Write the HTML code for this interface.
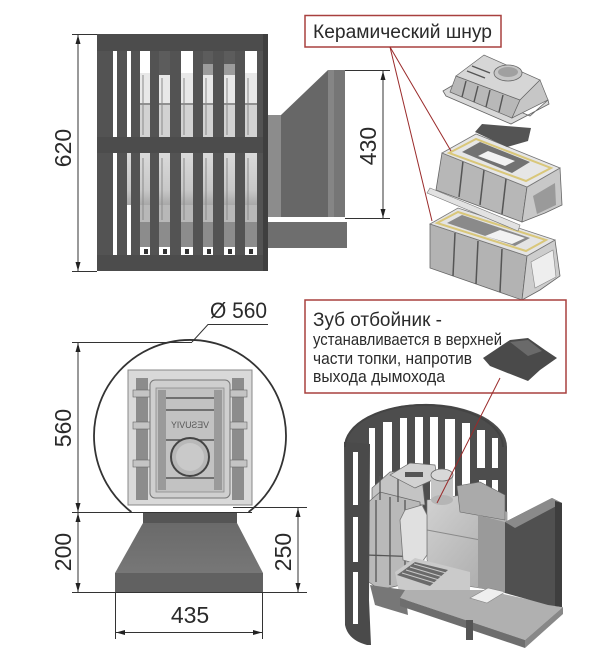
<!DOCTYPE html>
<html><head><meta charset="utf-8"><style>
html,body{margin:0;padding:0;background:#fff;}
svg{display:block;}
text{font-family:"Liberation Sans",sans-serif;fill:#2a2a2a;}
</style></head><body>
<svg width="600" height="666" viewBox="0 0 600 666" xmlns="http://www.w3.org/2000/svg">
<defs>
<marker id="ar" markerWidth="9" markerHeight="5" refX="9" refY="2.5" orient="auto-start-reverse" markerUnits="userSpaceOnUse"><path d="M0,0 L9,2.5 L0,5 z" fill="#222"/></marker>
<linearGradient id="gTrap" x1="0" y1="0" x2="0" y2="1"><stop offset="0" stop-color="#6a6a6a"/><stop offset="1" stop-color="#777"/></linearGradient>
<linearGradient id="gInt" x1="0" y1="0" x2="1" y2="1"><stop offset="0" stop-color="#d2d2d2"/><stop offset="1" stop-color="#a6a6a6"/></linearGradient>
<linearGradient id="gLow" x1="0" y1="0" x2="0" y2="1"><stop offset="0" stop-color="#dadada"/><stop offset="0.7" stop-color="#c8c8c8"/><stop offset="1" stop-color="#a8a8a8"/></linearGradient>
</defs>

<!-- ============ TOP-LEFT SIDE VIEW ============ -->
<rect x="140" y="73" width="122" height="30" fill="#e8e8e8"/>
<rect x="140" y="103" width="122" height="34" fill="#d2d2d2"/>
<line x1="140" y1="104" x2="262" y2="104" stroke="#7a7a7a" stroke-width="1.5"/>
<rect x="159" y="51" width="11" height="24" fill="#5c5c5c"/>
<rect x="203" y="51" width="32" height="13" fill="#5c5c5c"/>
<rect x="203" y="64" width="32" height="11" fill="#9c9c9c"/>
<rect x="127" y="153" width="135" height="52" fill="url(#gLow)"/>
<rect x="140" y="205" width="122" height="17" fill="#b8b8b8"/>
<rect x="140" y="222" width="122" height="25" fill="#8c8c8c"/>
<g fill="#333">
<rect x="144" y="249" width="4" height="5"/><rect x="163" y="249" width="4" height="5"/><rect x="185" y="249" width="4" height="5"/><rect x="207" y="249" width="4" height="5"/><rect x="228" y="249" width="4" height="5"/><rect x="249" y="249" width="4" height="5"/>
</g>
<g stroke="#8a8a8a" stroke-width="1">
<line x1="143" y1="75" x2="143" y2="135"/><line x1="162" y1="78" x2="162" y2="135"/><line x1="184" y1="78" x2="184" y2="135"/><line x1="206" y1="78" x2="206" y2="135"/><line x1="227" y1="78" x2="227" y2="135"/><line x1="248" y1="78" x2="248" y2="135"/>
<line x1="143" y1="158" x2="143" y2="220"/><line x1="162" y1="158" x2="162" y2="220"/><line x1="184" y1="158" x2="184" y2="220"/><line x1="206" y1="158" x2="206" y2="220"/><line x1="227" y1="158" x2="227" y2="220"/><line x1="248" y1="158" x2="248" y2="220"/>
</g>
<g fill="#535353">
<rect x="97" y="51" width="16" height="204"/>
<rect x="117" y="51" width="10" height="204"/>
<rect x="131" y="51" width="9" height="204"/>
<rect x="150" y="51" width="9" height="204"/>
<rect x="170" y="51" width="11" height="204"/>
<rect x="193" y="51" width="10" height="204"/>
<rect x="213" y="51" width="11" height="204"/>
<rect x="235" y="51" width="10" height="204"/>
<rect x="257" y="51" width="11" height="204"/>
</g>
<g fill="#4c4c4c">
<rect x="97" y="34" width="171" height="17"/>
<rect x="97" y="137" width="171" height="16"/>
<rect x="97" y="255" width="171" height="16"/>
</g>
<rect x="263" y="34" width="5" height="237" fill="#3f3f3f"/>
<!-- tunnel -->
<rect x="268" y="115" width="13" height="102" fill="#8c8c8c"/>
<polygon points="281,115 328,70 345,70 345,217 281,217" fill="#676767"/>
<rect x="328" y="70" width="6" height="147" fill="#858585"/>
<rect x="334" y="70" width="11" height="147" fill="#767676"/>
<rect x="268" y="222" width="79" height="26" fill="#6e6e6e"/>
<g stroke="#333" stroke-width="1">
<line x1="72" y1="34.5" x2="97" y2="34.5"/>
<line x1="72" y1="271.5" x2="97" y2="271.5"/>
<line x1="78" y1="35" x2="78" y2="271" marker-start="url(#ar)" marker-end="url(#ar)"/>
<line x1="345" y1="70.5" x2="390" y2="70.5"/>
<line x1="345" y1="218.5" x2="390" y2="218.5"/>
<line x1="383" y1="71" x2="383" y2="218" marker-start="url(#ar)" marker-end="url(#ar)"/>
</g>
<text transform="translate(71,148) rotate(-90)" text-anchor="middle" font-size="23">620</text>
<text transform="translate(376,146) rotate(-90)" text-anchor="middle" font-size="23">430</text>

<!-- ============ EXPLODED PARTS ============ -->
<!-- lower body -->
<polygon points="430,224 527,256 522,300 430,268" fill="#b3b3b3" stroke="#666" stroke-width="0.8"/>
<g stroke="#555" stroke-width="1.5">
<line x1="455" y1="233" x2="453" y2="276"/><line x1="478" y1="241" x2="476" y2="284"/><line x1="502" y1="249" x2="500" y2="292"/>
</g>
<polygon points="527,256 555,240 560,276 540,290 522,300" fill="#cdcdcd" stroke="#666" stroke-width="0.8"/>
<polygon points="531,262 553,250 556,277 535,288" fill="#eeeeee" stroke="#888" stroke-width="0.6"/>
<polygon points="430,224 458,208 555,240 527,256" fill="#e4e4e4" stroke="#777" stroke-width="0.8"/>
<polygon points="437,223 458,212 546,240 526,251" fill="none" stroke="#d9c77a" stroke-width="2"/>
<polygon points="447,223 462,215 530,238 515,246" fill="#8a8a8a"/>
<polygon points="485,236 500,230 525,238 512,244" fill="#f2f2f2"/>
<!-- upper body -->
<polygon points="442,153 527,187 522,222 436,190" fill="#b7b7b7" stroke="#666" stroke-width="0.8"/>
<g stroke="#555" stroke-width="1.5">
<line x1="463" y1="161" x2="459" y2="197"/><line x1="484" y1="170" x2="480" y2="205"/><line x1="506" y1="179" x2="502" y2="214"/>
</g>
<polygon points="430,188 520,225 518,231 427,193" fill="#e2e2e2" stroke="#777" stroke-width="0.6"/>
<polygon points="527,187 560,168 562,205 545,213 522,222" fill="#c8c8c8" stroke="#666" stroke-width="0.8"/>
<polygon points="533,196 555,183 556,205 537,214" fill="#9a9a9a"/>
<polygon points="442,153 476,134 560,168 527,187" fill="#e6e6e6" stroke="#777" stroke-width="0.8"/>
<polygon points="449,153 476,139 551,168 526,181" fill="none" stroke="#d9c77a" stroke-width="2"/>
<polygon points="462,152 480,142 530,162 512,173" fill="#727272"/>
<polygon points="478,156 488,151 515,161 505,166" fill="#f2f2f2"/>
<!-- dark plate -->
<polygon points="475,132 482,124 531,128 528,141 507,147" fill="#545454"/>
<!-- lid -->
<polygon points="443,91 455,84 530,116 548,100 549,104 511,124 446,96" fill="#d8d8d8" stroke="#666" stroke-width="0.8"/>
<polygon points="456,76 520,100 512,118 450,92" fill="#b8b8b8" stroke="#666" stroke-width="0.7"/>
<polygon points="456,76 484,55 540,80 520,100" fill="#d6d6d6" stroke="#666" stroke-width="0.7"/>
<polygon points="520,100 540,80 548,100 512,118" fill="#c6c6c6" stroke="#666" stroke-width="0.7"/>
<g stroke="#555" stroke-width="1.4">
<line x1="466" y1="81" x2="462" y2="97"/><line x1="478" y1="86" x2="474" y2="102"/><line x1="490" y1="90" x2="486" y2="107"/><line x1="503" y1="95" x2="499" y2="112"/>
<line x1="472" y1="66" x2="490" y2="73"/><line x1="467" y1="71" x2="485" y2="78"/>
</g>
<ellipse cx="508" cy="73" rx="14" ry="8" fill="#c6c6c6" stroke="#666" stroke-width="0.8"/>
<ellipse cx="508" cy="72" rx="10" ry="5" fill="#a0a0a0"/>
<!-- label 1 -->
<rect x="305" y="15.5" width="196" height="31.5" fill="#fff" stroke="#a8403f" stroke-width="1.5"/>
<text x="313" y="38" font-size="19" textLength="179" lengthAdjust="spacingAndGlyphs">Керамический шнур</text>
<g stroke="#9a2a2a" stroke-width="1">
<line x1="390" y1="47" x2="451" y2="151"/>
<line x1="390" y1="47" x2="432" y2="221"/>
</g>

<!-- ============ BOTTOM-LEFT FRONT VIEW ============ -->
<path d="M131.4,512 A96,96 0 1 1 248.6,512" fill="#fff" stroke="#333" stroke-width="1.8"/>
<rect x="128" y="370" width="124" height="135" fill="#d9d9d9" stroke="#888" stroke-width="1"/>
<rect x="136" y="378" width="12" height="122" fill="#8c8c8c"/>
<rect x="232" y="378" width="12" height="122" fill="#8c8c8c"/>
<g fill="#c4c4c4" stroke="#666" stroke-width="0.6">
<rect x="133" y="390" width="18" height="7"/><rect x="133" y="422" width="18" height="7"/><rect x="133" y="460" width="18" height="7"/>
<rect x="229" y="390" width="18" height="7"/><rect x="229" y="422" width="18" height="7"/><rect x="229" y="460" width="18" height="7"/>
</g>
<rect x="150" y="380" width="80" height="118" rx="5" fill="#cfcfcf" stroke="#777" stroke-width="1"/>
<rect x="156" y="388" width="68" height="104" fill="#c2c2c2" stroke="#8a8a8a" stroke-width="0.8"/>
<rect x="158" y="390" width="8" height="100" fill="#9a9a9a"/>
<rect x="214" y="390" width="8" height="100" fill="#9a9a9a"/>
<g stroke="#555" stroke-width="1.5">
<line x1="166" y1="398" x2="214" y2="398"/><line x1="166" y1="410" x2="214" y2="410"/><line x1="166" y1="440" x2="214" y2="440"/><line x1="166" y1="478" x2="214" y2="478"/>
</g>
<text transform="translate(209,428) scale(-1,1)" font-size="9" textLength="38" lengthAdjust="spacingAndGlyphs" style="fill:#555">VESUVIY</text>
<circle cx="190" cy="457" r="19" fill="#b8b8b8" stroke="#444" stroke-width="2"/>
<circle cx="190" cy="457" r="14" fill="#c9c9c9"/>
<rect x="143" y="512" width="94" height="11" fill="#555"/>
<polygon points="143,523 237,523 263,573 115,573" fill="url(#gTrap)"/>
<rect x="115" y="573" width="148" height="19" fill="#616161"/>
<g stroke="#333" stroke-width="1">
<line x1="72" y1="342.5" x2="192" y2="342.5"/>
<line x1="72" y1="512.5" x2="252" y2="512.5"/>
<line x1="72" y1="592.5" x2="307" y2="592.5"/>
<line x1="233" y1="507.5" x2="307" y2="507.5"/>
<line x1="78" y1="343" x2="78" y2="512" marker-start="url(#ar)" marker-end="url(#ar)"/>
<line x1="78" y1="513" x2="78" y2="592" marker-start="url(#ar)" marker-end="url(#ar)"/>
<line x1="298" y1="508" x2="298" y2="592" marker-start="url(#ar)" marker-end="url(#ar)"/>
<line x1="115.5" y1="592" x2="115.5" y2="639"/>
<line x1="262.5" y1="592" x2="262.5" y2="639"/>
<line x1="116" y1="632.5" x2="262" y2="632.5" marker-start="url(#ar)" marker-end="url(#ar)"/>
<polyline points="268,324.5 208,324.5 192,342" fill="none"/>
</g>
<text transform="translate(71,428) rotate(-90)" text-anchor="middle" font-size="23">560</text>
<text transform="translate(71,552) rotate(-90)" text-anchor="middle" font-size="23">200</text>
<text transform="translate(291,552) rotate(-90)" text-anchor="middle" font-size="23">250</text>
<text x="190" y="623" text-anchor="middle" font-size="23">435</text>
<text x="210" y="318" font-size="22" textLength="57" lengthAdjust="spacingAndGlyphs">Ø 560</text>

<!-- ============ BOTTOM-RIGHT CUTAWAY ============ -->
<path d="M345,447 A79,42 0 0 1 507,447 L507,528 L345,528 Z" fill="#4d4d4d"/>
<g fill="#fff">
<rect x="369" y="428" width="6" height="97"/>
<rect x="383" y="422" width="9" height="103"/>
<rect x="400" y="418" width="7" height="107"/>
<rect x="415" y="417" width="8" height="108"/>
<rect x="430" y="417" width="8" height="108"/>
<rect x="445" y="419" width="10" height="106"/>
<rect x="462" y="423" width="8" height="80"/>
<rect x="477" y="430" width="8" height="38"/>
<rect x="492" y="438" width="6" height="30"/>
<rect x="479" y="480" width="7" height="28"/>
<rect x="492" y="480" width="6" height="28"/>
</g>
<!-- stove -->
<polygon points="372,488 390,472 412,470 422,478 425,505 372,503" fill="#c4c4c4" stroke="#666" stroke-width="0.7"/>
<polygon points="365,505 380,492 400,497 420,502 422,580 380,590 366,580" fill="#b9b9b9" stroke="#666" stroke-width="0.7"/>
<g stroke="#555" stroke-width="1.3">
<line x1="376" y1="500" x2="376" y2="582"/><line x1="390" y1="497" x2="390" y2="585"/><line x1="405" y1="500" x2="405" y2="584"/>
<line x1="366" y1="555" x2="422" y2="557"/>
<line x1="380" y1="476" x2="380" y2="500"/><line x1="398" y1="472" x2="398" y2="502"/>
</g>
<polygon points="427,500 470,494 507,512 507,592 440,582 427,560" fill="url(#gInt)" stroke="#777" stroke-width="0.6"/>
<line x1="427" y1="530" x2="507" y2="545" stroke="#8a8a8a" stroke-width="1"/>
<polygon points="457,486 480,482 505,495 505,520 460,512" fill="#aaaaaa" stroke="#666" stroke-width="0.6"/>
<polygon points="478,515 505,522 505,593 478,588" fill="#9a9a9a"/>
<polygon points="390,475 410,463 435,465 437,478 415,488" fill="#d2d2d2" stroke="#666" stroke-width="0.7"/>
<rect x="405" y="472" width="18" height="5" fill="#555"/>
<rect x="431" y="475" width="22" height="25" fill="#c6c6c6"/>
<ellipse cx="442" cy="500" rx="11" ry="5" fill="#b5b5b5"/>
<ellipse cx="442" cy="475" rx="11" ry="6" fill="#d8d8d8" stroke="#666" stroke-width="0.8"/>
<polygon points="405,510 422,505 427,515 427,555 420,565 403,560 400,520" fill="#e0e0e0" stroke="#777" stroke-width="0.8"/>
<polygon points="395,572 415,558 470,572 470,600 400,598" fill="#cacaca"/>
<polygon points="397,575 415,562 448,570 430,586" fill="#6a6a6a"/>
<g stroke="#c8c8c8" stroke-width="1">
<line x1="402" y1="573" x2="435" y2="583"/><line x1="406" y1="570" x2="439" y2="580"/><line x1="410" y1="567" x2="443" y2="577"/><line x1="414" y1="564" x2="446" y2="573"/>
</g>
<polygon points="370,585 405,590 408,615 375,605" fill="#777"/>
<polygon points="405,590 485,590 563,607 525,640 400,598" fill="#b0b0b0"/>
<polygon points="400,598 525,640 525,648 400,606" fill="#6e6e6e"/>
<polygon points="525,640 563,607 563,614 525,648" fill="#888"/>
<rect x="466" y="620" width="7" height="20" fill="#555"/>
<polygon points="470,598 488,588 505,592 487,603" fill="#eeeeee" stroke="#888" stroke-width="0.6"/>
<polygon points="505,522 552,498 562,503 562,607 548,605 505,593" fill="#505050"/>
<polygon points="505,522 552,498 562,503 515,528" fill="#8a8a8a"/>
<polygon points="555,501 562,503 562,607 555,606" fill="#3e3e3e"/>
<path d="M344,442 L345,625 Q348,640 367,645 L371,645 L369,600 L370,444 Z" fill="#4a4a4a"/>
<g fill="#fff">
<rect x="353" y="452" width="5" height="53"/>
<rect x="353" y="517" width="5" height="45"/>
<rect x="353" y="572" width="5" height="52"/>
</g>
<path d="M345,447 A79,42 0 0 1 503,447" fill="none" stroke="#444" stroke-width="2"/>
<!-- label 2 -->
<rect x="305" y="300" width="261" height="93" fill="#fff" stroke="#a8403f" stroke-width="1.5"/>
<text x="313" y="326" font-size="19" textLength="129" lengthAdjust="spacingAndGlyphs">Зуб отбойник -</text>
<text x="313" y="345" font-size="16.5" textLength="189" lengthAdjust="spacingAndGlyphs">устанавливается в верхней</text>
<text x="313" y="364" font-size="16.5" textLength="159" lengthAdjust="spacingAndGlyphs">части топки, напротив</text>
<text x="313" y="382" font-size="16.5" textLength="132" lengthAdjust="spacingAndGlyphs">выхода дымохода</text>
<polygon points="483,358 510,340 528,338 545,350 557,358 540,370 528,381 505,372 490,366" fill="#4a4a4a"/>
<polygon points="510,342 528,340 542,351 528,356" fill="#6a6a6a"/>
<line x1="500" y1="378" x2="437" y2="503" stroke="#9a2a2a" stroke-width="1"/>
</svg>
</body></html>
